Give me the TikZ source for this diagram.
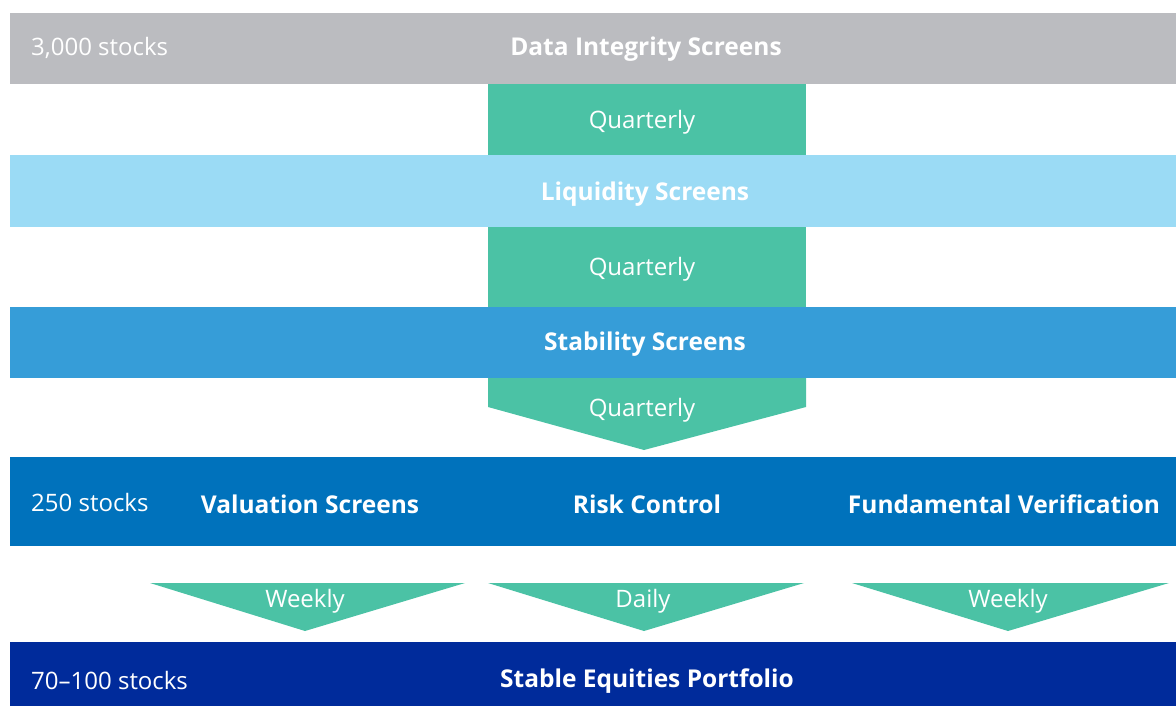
\documentclass[tikz,border=0pt]{standalone}
\usepackage{fontspec}
\setmainfont{Open Sans}

\definecolor{dataGray}{HTML}{BBBCC0}
\definecolor{liqBlue}{HTML}{9BDBF5}
\definecolor{stabBlue}{HTML}{369DD8}
\definecolor{valBlue}{HTML}{0072BC}
\definecolor{portNavy}{HTML}{002B9B}
\definecolor{freqGreen}{HTML}{4BC2A5}

\begin{document}
\begin{tikzpicture}[x=1pt,y=-1pt,
    every node/.style={text=white,inner sep=0pt,font=\fontsize{24}{28}\selectfont},
    title/.style={font=\fontsize{24.5}{28}\selectfont\bfseries},
    count/.style={anchor=west}]
  \useasboundingbox (0,0) rectangle (1176,706);

  % Screening bars
  \fill[dataGray] (10,13) rectangle (1176,84);
  \node[count] (n3000) at (31,48) {3,000 stocks};
  \node[title] (data) at (646,49) {Data Integrity Screens};

  \fill[freqGreen] (488,84) rectangle (806,155);
  \node (q1) at (642,122) {Quarterly};

  \fill[liqBlue] (10,155) rectangle (1176,227);
  \node[title] (liq) at (645,194) {Liquidity Screens};

  \fill[freqGreen] (488,227) rectangle (806,307);
  \node (q2) at (642,269) {Quarterly};

  \fill[stabBlue] (10,307) rectangle (1176,378);
  \node[title] (stab) at (645,344) {Stability Screens};

  \fill[freqGreen] (488,378) -- (806,378) -- (806,407) -- (644,450) -- (488,407) -- cycle;
  \node (q3) at (642,410) {Quarterly};

  % Model stage
  \fill[valBlue] (10,457) rectangle (1176,546);
  \node[count] (n250) at (31,502) {250 stocks};
  \node[title] (val) at (310,504) {Valuation Screens};
  \node[title] (risk) at (647,504) {Risk Control};
  \node[title] (fund) at (1004,504) {Fundamental Verification};

  \fill[freqGreen] (150,583) -- (465,583) -- (305,631) -- cycle;
  \node (w1) at (305,601) {Weekly};
  \fill[freqGreen] (488,583) -- (804,583) -- (644,631) -- cycle;
  \node (d1) at (643,601) {Daily};
  \fill[freqGreen] (852,583) -- (1169,583) -- (1008,631) -- cycle;
  \node (w2) at (1008,601) {Weekly};

  % Portfolio
  \fill[portNavy] (10,642) rectangle (1176,706);
  \node[count] (n70) at (31,680) {70--100 stocks};
  \node[title] (port) at (647,681) {Stable Equities Portfolio};
\end{tikzpicture}
\end{document}
